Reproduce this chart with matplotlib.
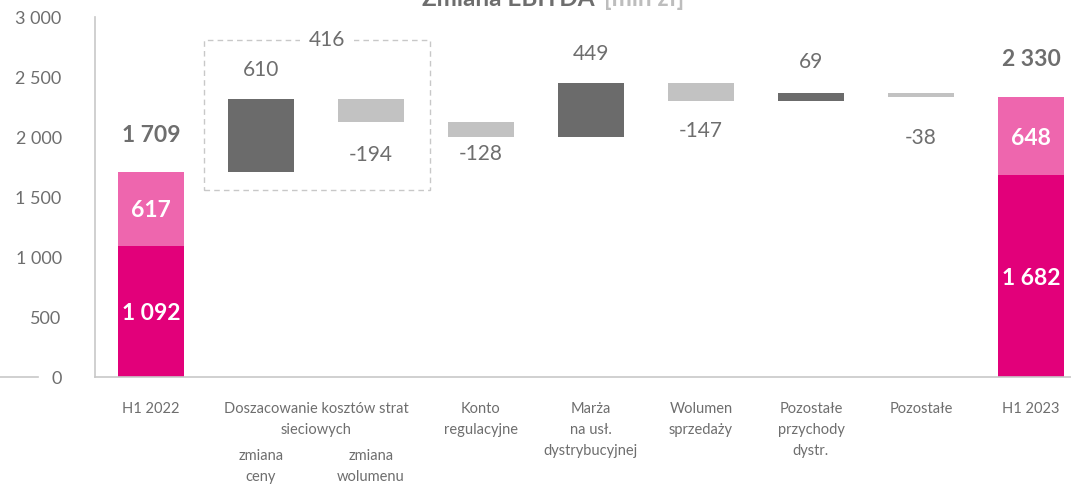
import matplotlib
matplotlib.use("Agg")
import matplotlib.pyplot as plt
from matplotlib.patches import Rectangle
from matplotlib.lines import Line2D
import numpy as np

plt.rcParams['font.family'] = ['Lato', 'DejaVu Sans']

# ---- data ----
start_label = "H1 2022"
end_label = "H1 2023"
start_base = 1092
start_top = 617
end_base = 1682
end_top = 648
delta_labels = ["zmiana\nceny", "zmiana\nwolumenu", "Konto\nregulacyjne",
                "Marża\nna usł.\ndystrybucyjnej", "Wolumen\nsprzedaży",
                "Pozostałe\nprzychody\ndystr.", "Pozostałe"]
deltas = [610, -194, -128, 449, -147, 69, -38]
group_label = "Doszacowanie kosztów strat\nsieciowych"
group_total = 416
yticks = [0, 500, 1000, 1500, 2000, 2500, 3000]
ytick_labels = ["0", "500", "1 000", "1 500", "2 000", "2 500", "3 000"]

# ---- style ----
MAGENTA = "#E2007A"
PINK = "#EE66AE"
DARK = "#6B6B6B"
LIGHT = "#C2C2C2"
TXT = "#6E6E6E"
label_offsets_px = [29, 33, 17, 29, 30, 31, 41]

def fmt(v):
    s = f"{abs(v):,}".replace(",", " ")
    return ("-" if v < 0 else "") + s

W, H = 1071, 487
fig = plt.figure(figsize=(W/100, H/100), dpi=100)
ax = fig.add_axes([95/W, (H-377)/H, 1-95/W, 360/H])
ax.set_xlim(-0.509, 8.364)
ax.set_ylim(0, 3000)

bw = 0.6
n = len(deltas)
xs_delta = np.arange(1, n+1)
x_end = n + 1

# start bar
ax.bar(0, start_base, bw, color=MAGENTA, zorder=2)
ax.bar(0, start_top, bw, bottom=start_base, color=PINK, zorder=2)
start_total = start_base + start_top
ax.annotate(fmt(start_total), (0, start_total), xytext=(0, 36), textcoords='offset pixels',
            ha='center', va='center', fontsize=16.5, fontweight='bold', color=TXT)
ax.text(0, start_base/2, fmt(start_base), ha='center', va='center_baseline',
        fontsize=16.5, fontweight='bold', color='white', zorder=3)
ax.text(0, start_base + start_top/2, fmt(start_top), ha='center', va='center_baseline',
        fontsize=16.5, fontweight='bold', color='white', zorder=3)

# deltas
level = start_total
for x, d, off in zip(xs_delta, deltas, label_offsets_px):
    bottom = level if d >= 0 else level + d
    ax.bar(x, abs(d), bw, bottom=bottom, color=DARK if d >= 0 else LIGHT, zorder=2)
    if d >= 0:
        ax.annotate(fmt(d), (x, level + d), xytext=(0, off), textcoords='offset pixels',
                    ha='center', va='center', fontsize=15, color=TXT)
    else:
        ax.annotate(fmt(d), (x, level + d), xytext=(0, -off), textcoords='offset pixels',
                    ha='center', va='center', fontsize=15, color=TXT)
    level += d

# end bar
ax.bar(x_end, end_base, bw, color=MAGENTA, zorder=2)
ax.bar(x_end, end_top, bw, bottom=end_base, color=PINK, zorder=2)
end_total = end_base + end_top
ax.annotate(fmt(end_total), (x_end, end_total), xytext=(0, 38), textcoords='offset pixels',
            ha='center', va='center', fontsize=16.5, fontweight='bold', color=TXT)
ax.text(x_end, end_base/2, fmt(end_base), ha='center', va='center_baseline',
        fontsize=16.5, fontweight='bold', color='white', zorder=3)
ax.text(x_end, end_base + end_top/2, fmt(end_top), ha='center', va='center_baseline',
        fontsize=16.5, fontweight='bold', color='white', zorder=3)

# dashed group box
ax.add_patch(Rectangle((0.482, 1558), 2.536-0.482, 2808-1558, fill=False,
                       edgecolor="#C8C8C8", linestyle=(0, (4, 3)), linewidth=1.0, zorder=1))
ax.text(1.6, 2808, fmt(group_total), ha='center', va='center', fontsize=15, color=TXT,
        bbox=dict(facecolor='white', edgecolor='none', pad=6), zorder=3)

# axes styling
for s in ['top', 'right']:
    ax.spines[s].set_visible(False)
ax.spines['left'].set_color("#C8C8C8")
ax.spines['bottom'].set_color("#C8C8C8")
ax.spines['left'].set_linewidth(1.2)
ax.spines['bottom'].set_linewidth(1.2)
ax.set_yticks(yticks)
ax.set_yticklabels(ytick_labels)
ax.tick_params(axis='y', length=0, pad=24, labelsize=13, labelcolor=TXT)
ax.set_xticks([])

# x labels
lab_kw = dict(ha='center', va='top', fontsize=10.5, color=TXT, linespacing=1.65,
              transform=ax.get_xaxis_transform())
ytop = -25/360
ax.text(0, ytop, start_label, **lab_kw)
ax.text(x_end, ytop, end_label, **lab_kw)
ax.text(1.5, ytop, group_label, **lab_kw)
for x, lab in zip(xs_delta, delta_labels):
    if x <= 2:
        ax.text(x, -72/360, lab, **lab_kw)
    else:
        ax.text(x, ytop, lab, **lab_kw)

# small line at left
fig.add_artist(Line2D([0, 38/W], [(H-377)/H]*2, color="#C8C8C8", linewidth=1.2))

# title (partly cut off at top, as in the reference)
ty = 1 - 6/H
t1 = fig.text(422/W, ty, "Zmiana EBITDA", ha='left', va='baseline', fontsize=17.5,
              fontweight='bold', color=TXT)
fig.canvas.draw()
bb = t1.get_window_extent()
fig.text((bb.x1 + 9)/W, ty, "[mln zł]", ha='left', va='baseline', fontsize=17.5,
         fontweight='bold', color="#BDBDBD")

fig.savefig("out.png", dpi=100)
